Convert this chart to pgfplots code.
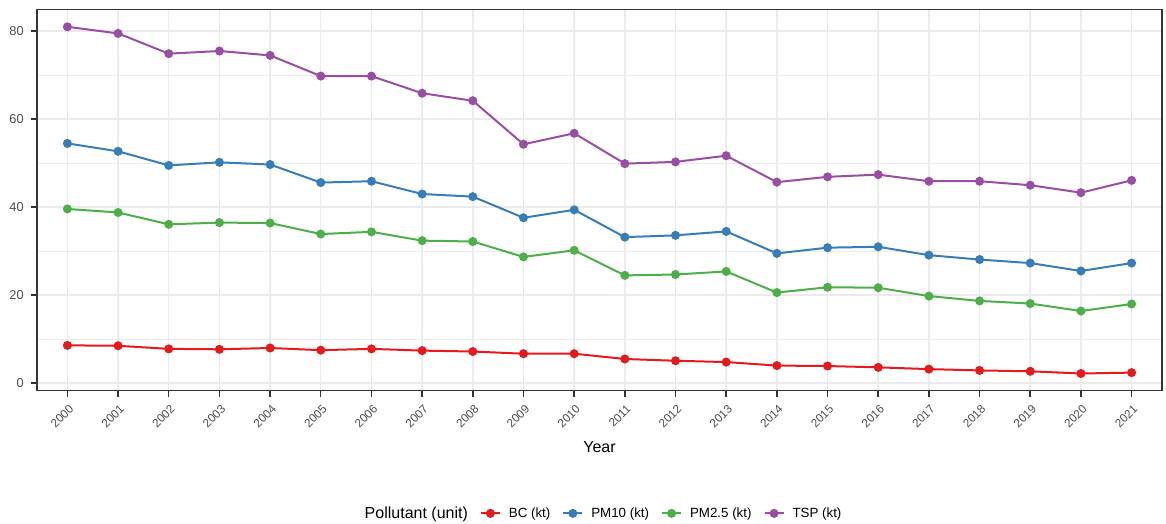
\documentclass[border=0pt]{standalone}
\usepackage{fontspec}
\setmainfont{Liberation Sans}
\usepackage{pgfplots}
\usepackage{pgfplotstable}
\pgfplotsset{compat=1.18}
\definecolor{cBC}{HTML}{E41A1C}
\definecolor{cPMten}{HTML}{377EB8}
\definecolor{cPMtwo}{HTML}{4DAF4A}
\definecolor{cTSP}{HTML}{984EA3}
\definecolor{gridc}{HTML}{EBEBEB}
\definecolor{frame}{HTML}{333333}
\definecolor{ticktext}{HTML}{4D4D4D}
\pgfplotstableread{
year BC PMten PMtwo TSP
2000 8.6 54.5 39.6 81.0
2001 8.5 52.7 38.8 79.5
2002 7.8 49.5 36.1 74.9
2003 7.7 50.2 36.5 75.5
2004 8.0 49.7 36.4 74.5
2005 7.5 45.6 33.9 69.8
2006 7.8 45.9 34.4 69.8
2007 7.4 43.0 32.4 65.9
2008 7.2 42.4 32.2 64.2
2009 6.7 37.6 28.7 54.3
2010 6.7 39.4 30.2 56.8
2011 5.5 33.2 24.5 49.9
2012 5.1 33.6 24.7 50.3
2013 4.8 34.5 25.4 51.7
2014 4.0 29.5 20.6 45.7
2015 3.9 30.8 21.8 46.9
2016 3.6 31.0 21.7 47.4
2017 3.2 29.1 19.8 45.9
2018 2.9 28.1 18.7 45.9
2019 2.7 27.3 18.1 45.0
2020 2.2 25.5 16.4 43.3
2021 2.4 27.3 18.0 46.1
}\datatable
\begin{document}
\begin{tikzpicture}
\useasboundingbox (0,0) rectangle (874.5pt,393pt);
\begin{axis}[
  at={(27.75pt,100pt)}, anchor=south west,
  width=843.75pt, height=285.75pt, scale only axis,
  xmin=1999.4, xmax=2021.6, ymin=-1.7, ymax=84.9,
  xtick={2000,...,2021},
  ytick={0,20,40,60,80},
  minor ytick={10,30,50,70},
  grid=both,
  major grid style={color=gridc, line width=1.1pt},
  minor grid style={color=gridc, line width=0.6pt},
  axis line style={color=frame, line width=0.9pt},
  major tick style={color=frame, line width=1.1pt},
  minor tick length=0pt,
  major tick length=4.8pt,
  tick align=outside,
  xtick pos=bottom, ytick pos=left,
  /pgf/number format/1000 sep={},
  /pgf/number format/assume math mode=true,
  ticklabel style={text=ticktext},
  xticklabel style={font=\fontsize{8.8}{10}\selectfont, rotate=45, anchor=north east, inner sep=1pt, xshift=-2pt, yshift=-3pt},
  yticklabel style={font=\fontsize{9.6}{11}\selectfont, inner sep=1.5pt, xshift=-3.5pt},
  xlabel={Year},
  xlabel style={font=\fontsize{12}{14}\selectfont, at={(axis description cs:0.5,-0.148)}, anchor=center},
  legend columns=5,
  legend style={at={(axis description cs:0.502,-0.322)}, anchor=center, draw=none, fill=none,
    font=\fontsize{10}{12}\selectfont,
    /tikz/every even column/.append style={column sep=5pt},
    /tikz/every odd column/.append style={column sep=2pt},
    nodes={inner xsep=4pt}},
  legend image code/.code={\draw[mark repeat=2,mark phase=2] plot coordinates {(0cm,0cm) (0.25cm,0cm) (0.5cm,0cm)};},
  every axis plot/.append style={line width=1.5pt, mark=*, mark size=2.6pt, mark options={solid}},
]
\addlegendimage{empty legend}
\addlegendentry{\fontsize{12}{14}\selectfont Pollutant (unit)}
\addplot[color=cBC] table[x=year,y=BC]{\datatable};
\addlegendentry{BC (kt)}
\addplot[color=cPMten] table[x=year,y=PMten]{\datatable};
\addlegendentry{PM10 (kt)}
\addplot[color=cPMtwo] table[x=year,y=PMtwo]{\datatable};
\addlegendentry{PM2.5 (kt)}
\addplot[color=cTSP] table[x=year,y=TSP]{\datatable};
\addlegendentry{TSP (kt)}
\end{axis}
\end{tikzpicture}
\end{document}
